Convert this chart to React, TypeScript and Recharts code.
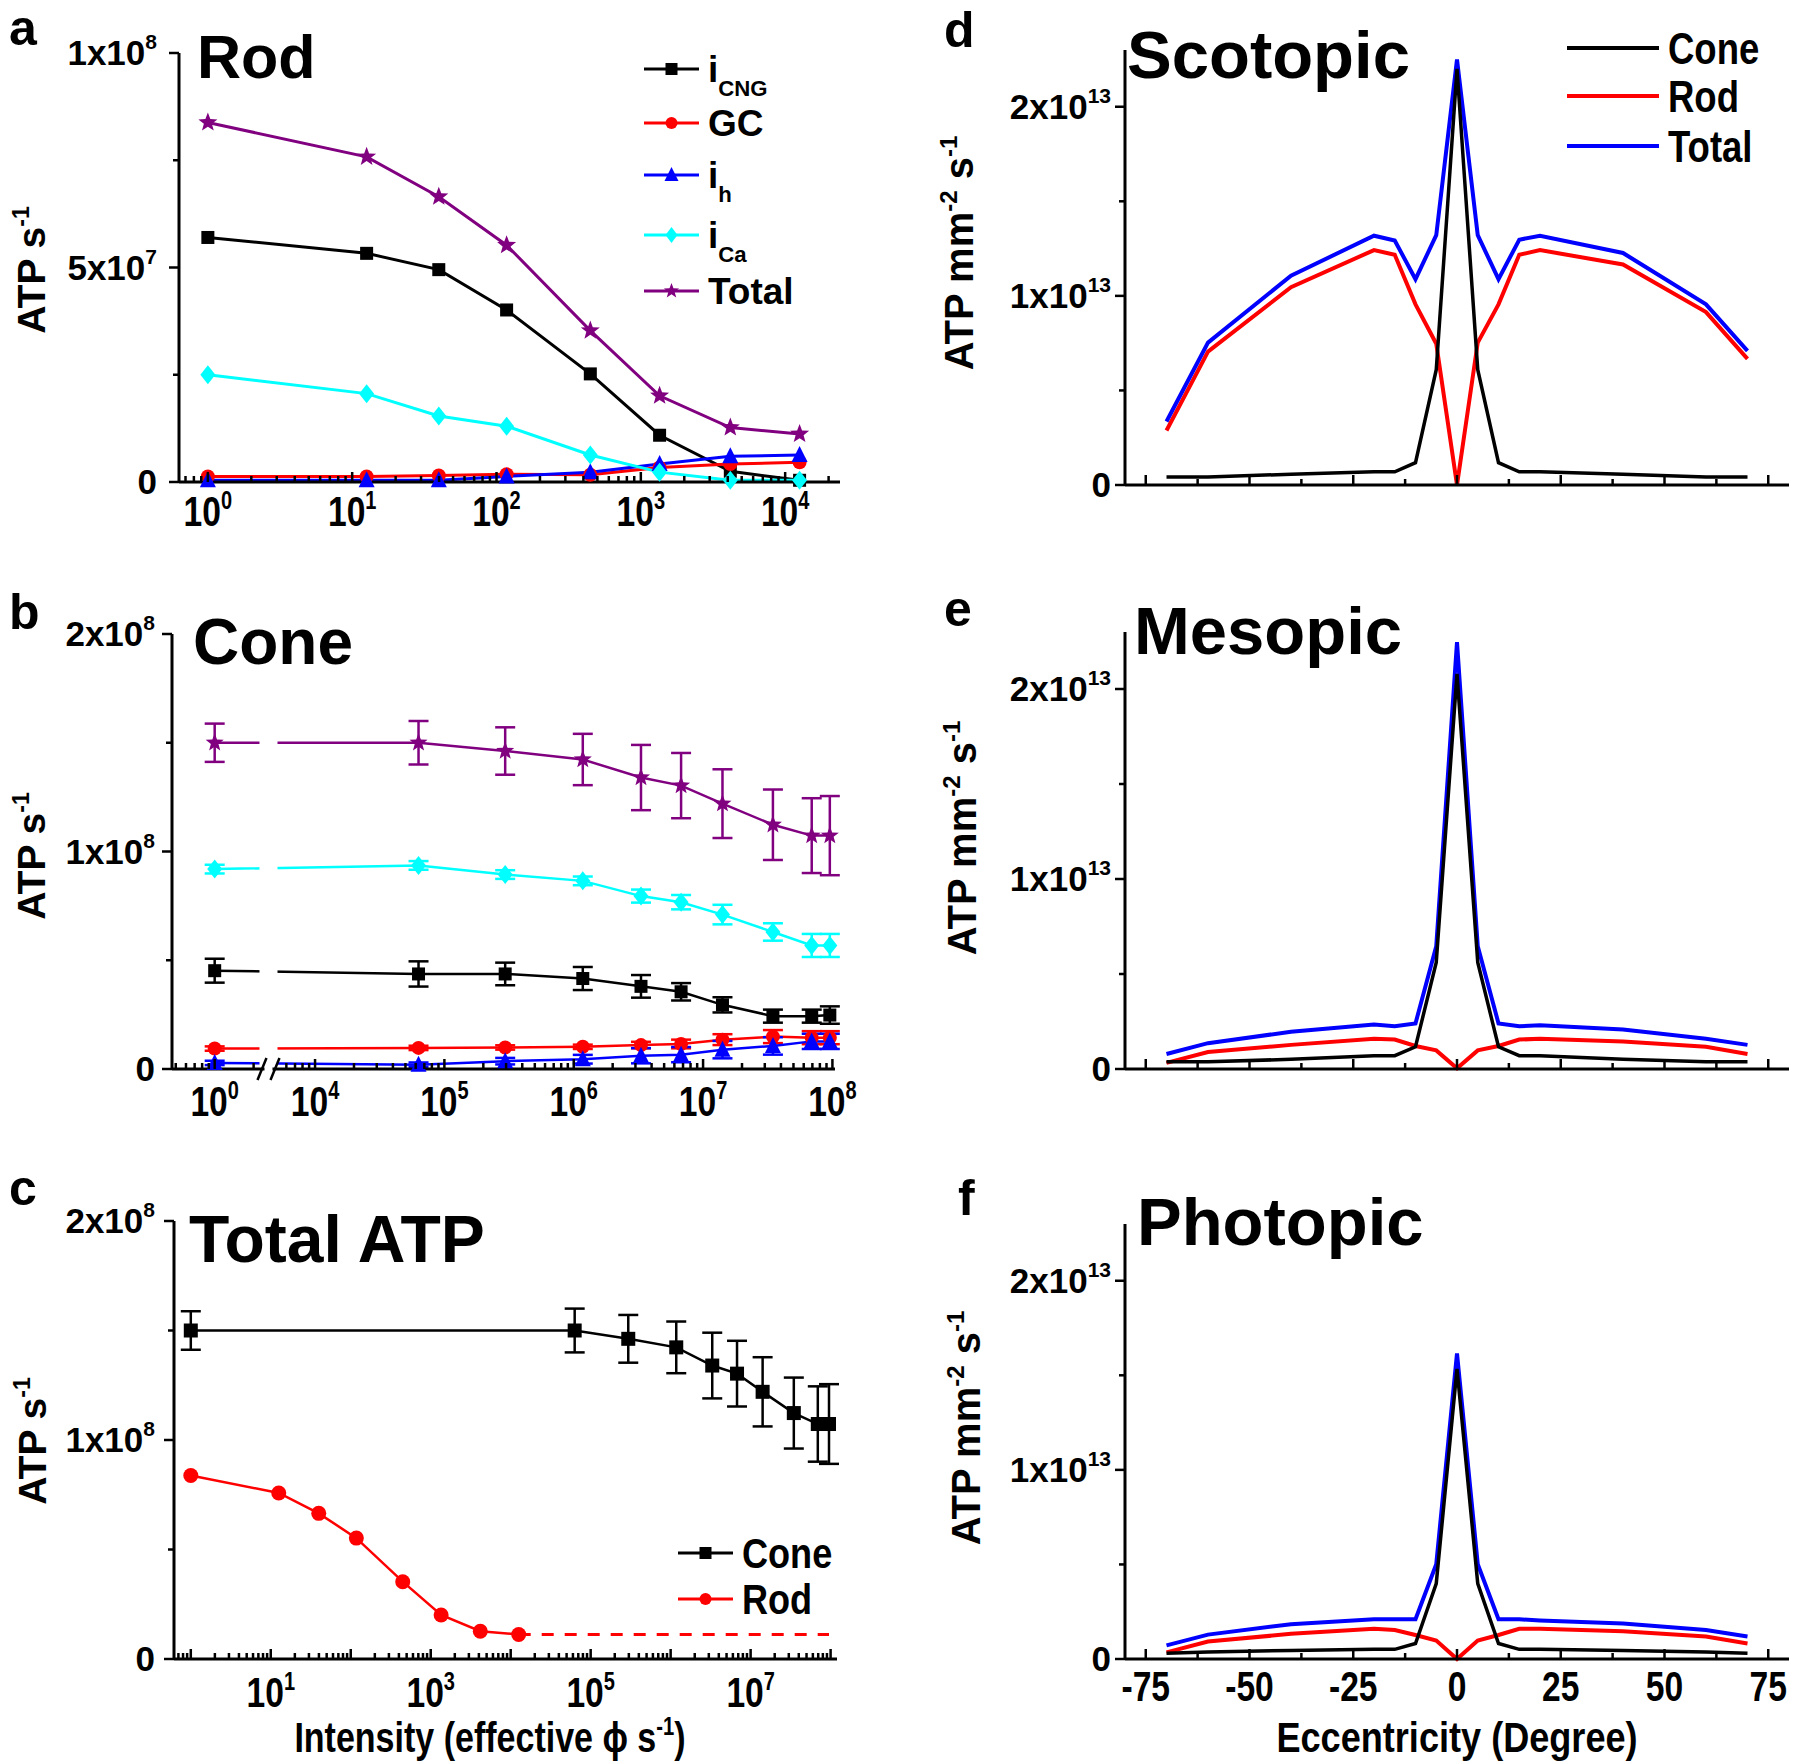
import type { ReactNode } from "react";
import { ErrorBar, Line, LineChart, XAxis, YAxis } from "recharts";

const SANS = "'Liberation Sans', Arial, Helvetica, sans-serif";

const PURPLE = "#800080";
const CYAN = "#00ffff";
const RED = "#ff0000";
const BLUE = "#0000ff";
const BLACK = "#000000";

// ---------- rod (panels a, c) : x = log10 intensity, values in 1e7 ATP/s ----------
const rodLogI = [0, 1.1, 1.6, 2.07, 2.65, 3.13, 3.62, 4.1];
const rodCng = [5.7, 5.33, 4.95, 4.01, 2.52, 1.09, 0.25, 0.04];
const rodGc = [0.13, 0.13, 0.15, 0.18, 0.17, 0.34, 0.42, 0.46];
const rodIh = [0.04, 0.04, 0.04, 0.13, 0.23, 0.42, 0.6, 0.63];
const rodICa = [2.5, 2.06, 1.54, 1.3, 0.63, 0.23, 0.04, 0.04];
const rodTotal = [8.38, 7.58, 6.65, 5.52, 3.53, 2.01, 1.27, 1.12];
// dashed continuation of rod total in panel c
const rodTailLogI = [4.1, 7.98];
const rodTailVal = [1.12, 1.12];

// ---------- cone (panels b, c) ----------
const coneLogI = [0, 4.8, 5.47, 6.07, 6.52, 6.83, 7.15, 7.54, 7.84, 7.98];
const coneTotal = [15.0, 15.0, 14.62, 14.23, 13.4, 13.03, 12.2, 11.23, 10.73, 10.73];
const coneTotalErr = [0.88, 1.0, 1.09, 1.18, 1.5, 1.5, 1.58, 1.62, 1.72, 1.82];
const coneICa = [9.19, 9.36, 8.94, 8.65, 7.95, 7.67, 7.1, 6.3, 5.68, 5.68];
const coneICaErr = [0.2, 0.2, 0.2, 0.2, 0.3, 0.33, 0.45, 0.4, 0.53, 0.53];
const coneCng = [4.52, 4.37, 4.37, 4.16, 3.8, 3.55, 2.95, 2.43, 2.43, 2.48];
const coneCngErr = [0.55, 0.58, 0.52, 0.53, 0.52, 0.4, 0.35, 0.3, 0.3, 0.4];
const coneGc = [0.94, 0.97, 0.99, 1.02, 1.1, 1.15, 1.35, 1.49, 1.44, 1.44];
const coneGcErr = [0.1, 0.1, 0.1, 0.1, 0.15, 0.2, 0.25, 0.3, 0.3, 0.3];
const coneIh = [0.28, 0.2, 0.36, 0.45, 0.61, 0.66, 0.89, 1.06, 1.27, 1.27];
const coneIhErr = [0.1, 0.1, 0.15, 0.2, 0.35, 0.35, 0.4, 0.4, 0.35, 0.35];

// ---------- eccentricity profiles (panels d-f), values in 1e12 ATP mm-2 s-1 ----------
const ecc = [-70, -60, -40, -20, -15, -10, -5, 0, 5, 10, 15, 20, 40, 60, 70];
const scotCone = [0.42, 0.42, 0.57, 0.7, 0.7, 1.18, 6.1, 22.0, 6.1, 1.18, 0.7, 0.7, 0.57, 0.42, 0.42];
const scotRod = [2.88, 7.05, 10.46, 12.42, 12.17, 9.55, 7.47, 0, 7.53, 9.55, 12.17, 12.42, 11.66, 9.14, 6.67];
const scotTotal = [3.36, 7.53, 11.07, 13.18, 12.93, 10.88, 13.21, 22.5, 13.21, 10.88, 12.97, 13.18, 12.27, 9.55, 7.09];
const mesoCone = [0.38, 0.38, 0.51, 0.7, 0.7, 1.17, 5.61, 20.8, 5.61, 1.17, 0.7, 0.7, 0.51, 0.38, 0.38];
const mesoRod = [0.32, 0.89, 1.27, 1.59, 1.55, 1.21, 0.98, 0.04, 0.98, 1.21, 1.55, 1.59, 1.45, 1.17, 0.79];
const mesoTotal = [0.79, 1.36, 1.96, 2.34, 2.25, 2.4, 6.46, 22.47, 6.46, 2.4, 2.25, 2.3, 2.08, 1.59, 1.27];
const photCone = [0.31, 0.37, 0.45, 0.51, 0.51, 0.82, 3.99, 15.34, 3.99, 0.82, 0.51, 0.51, 0.45, 0.37, 0.31];
const photRod = [0.35, 0.92, 1.33, 1.6, 1.53, 1.27, 0.98, 0, 0.98, 1.27, 1.6, 1.6, 1.47, 1.19, 0.82];
const photTotal = [0.72, 1.29, 1.84, 2.1, 2.1, 2.1, 5.01, 16.16, 5.01, 2.1, 2.1, 2.04, 1.88, 1.53, 1.19];

// tick labels
const rodDecades = [0, 1, 2, 3, 4];
const coneDecadesB = [0, 4, 5, 6, 7, 8];
const coneDecadesC = [1, 3, 5, 7];
const eccTicks = [-75, -62.5, -50, -37.5, -25, -12.5, 0, 12.5, 25, 37.5, 50, 62.5, 75];
const eccLabels = [-75, -50, -25, 0, 25, 50, 75];

const E7 = 1e7;
const E12 = 1e12;

// panel b has a broken axis: the 10^0 point sits left of the break
const BREAK_OFFSET = 3.224;
const BREAK_AT = 3.64;
const brokenX = (l: number) => (l < 2 ? l + BREAK_OFFSET : l);

const rodRows = rodLogI.map((x, i) => ({
  x,
  cng: rodCng[i] * E7,
  gc: rodGc[i] * E7,
  ih: rodIh[i] * E7,
  ica: rodICa[i] * E7,
  total: rodTotal[i] * E7,
}));
const rodTailRows = rodTailLogI.map((x, i) => ({ x, y: rodTailVal[i] * E7 }));

const coneRowsB = coneLogI.map((l, i) => ({
  x: brokenX(l),
  total: coneTotal[i] * E7,
  totalErr: coneTotalErr[i] * E7,
  ica: coneICa[i] * E7,
  icaErr: coneICaErr[i] * E7,
  cng: coneCng[i] * E7,
  cngErr: coneCngErr[i] * E7,
  gc: coneGc[i] * E7,
  gcErr: coneGcErr[i] * E7,
  ih: coneIh[i] * E7,
  ihErr: coneIhErr[i] * E7,
}));
const coneRowsC = coneLogI.map((x, i) => ({
  x,
  total: coneTotal[i] * E7,
  totalErr: coneTotalErr[i] * E7,
}));

const eccRows = (cone: number[], rod: number[], total: number[]) =>
  ecc.map((x, i) => ({ x, cone: cone[i] * E12, rod: rod[i] * E12, total: total[i] * E12 }));
const scotRows = eccRows(scotCone, scotRod, scotTotal);
const mesoRows = eccRows(mesoCone, mesoRod, mesoTotal);
const photRows = eccRows(photCone, photRod, photTotal);

// condensed bold text (no narrow face installed, so squeeze horizontally)
function NText({
  x,
  y,
  size,
  sx = 0.8,
  anchor = "start",
  children,
}: {
  x: number;
  y: number;
  size: number;
  sx?: number;
  anchor?: "start" | "middle" | "end";
  children: ReactNode;
}) {
  return (
    <text
      transform={`translate(${x},${y}) scale(${sx},1)`}
      textAnchor={anchor}
      fontFamily={SANS}
      fontWeight={700}
      fontSize={size}
      fill="#000"
    >
      {children}
    </text>
  );
}

// ---------- ticks ----------
function logTicks(lo: number, hi: number, offset = 0) {
  const ticks: number[] = [];
  const major: number[] = [];
  for (let n = Math.floor(lo - offset) - 1; n <= Math.ceil(hi - offset); n++) {
    for (let k = 1; k <= 9; k++) {
      const t = n + Math.log10(k) + offset;
      if (t >= lo - 1e-9 && t <= hi + 1e-9) {
        ticks.push(t);
        if (k === 1) major.push(t);
      }
    }
  }
  return { ticks, major };
}

type Lab = { at: number; base: string; sup?: string };
const near = (a: number, b: number) => Math.abs(a - b) <= Math.abs(a) * 1e-9 + 1e-6;

function xTick(opts: { labels: Lab[]; major: number[]; dy: number; breakAt?: number; plotH?: number }) {
  return (props: any) => {
    const { x, y, payload } = props;
    const v: number = payload.value;
    if (opts.breakAt !== undefined && near(opts.breakAt, v)) {
      const h = opts.plotH ?? 0;
      return (
        <g>
          <rect x={x - 9} y={y - h} width={18} height={h - 3} fill="#fff" />
          <rect x={x - 4} y={y - 3} width={8} height={6} fill="#fff" />
          <line x1={x - 11} y1={y + 11} x2={x - 2} y2={y - 11} stroke="#000" strokeWidth={2.5} />
          <line x1={x + 2} y1={y + 11} x2={x + 11} y2={y - 11} stroke="#000" strokeWidth={2.5} />
        </g>
      );
    }
    const isMajor = opts.major.some((m) => near(m, v));
    const lab = opts.labels.find((l) => near(l.at, v));
    return (
      <g>
        <line x1={x} x2={x} y1={y} y2={y - (isMajor ? 10 : 6)} stroke="#000" strokeWidth={2.5} />
        {lab && (
          <NText x={x} y={y + opts.dy} size={42} sx={0.8} anchor="middle">
            {lab.base}
            {lab.sup && (
              <tspan fontSize={25} dy={-17}>
                {lab.sup}
              </tspan>
            )}
          </NText>
        )}
      </g>
    );
  };
}

function yTick(labels: Lab[], gap: number) {
  return (props: any) => {
    const { x, y, payload } = props;
    const lab = labels.find((l) => near(l.at, payload.value));
    return (
      <g>
        <line x1={x} x2={x - (lab ? 10 : 6)} y1={y} y2={y} stroke="#000" strokeWidth={2.5} />
        {lab && (
          <text x={x - gap} y={y + 12} textAnchor="end" fontFamily={SANS} fontWeight={700} fontSize={35} fill="#000">
            {lab.base}
            {lab.sup && (
              <tspan fontSize={21} dy={-16}>
                {lab.sup}
              </tspan>
            )}
          </text>
        )}
      </g>
    );
  };
}

const decadeLabels = (ds: number[]): Lab[] => ds.map((d) => ({ at: d, base: "10", sup: String(d) }));

const aX = logTicks(-0.2, 4.38);
const bLeft = logTicks(2.894, 3.57, BREAK_OFFSET);
const bRight = logTicks(3.7, 8.02);
const bX = {
  ticks: [...bLeft.ticks, BREAK_AT, ...bRight.ticks],
  major: [...bLeft.major, ...bRight.major],
};
const cX = logTicks(-0.21, 8.08);

const aXTick = xTick({ labels: decadeLabels(rodDecades), major: aX.major, dy: 44 });
const bXTick = xTick({
  labels: coneDecadesB.map((d) => ({ at: d === 0 ? BREAK_OFFSET : d, base: "10", sup: String(d) })),
  major: bX.major,
  dy: 47,
  breakAt: BREAK_AT,
  plotH: 435,
});
const cXTick = xTick({ labels: decadeLabels(coneDecadesC), major: cX.major, dy: 48 });
const eccXTickBare = xTick({ labels: [], major: eccLabels, dy: 42 });
const eccXTick = xTick({ labels: eccLabels.map((v) => ({ at: v, base: String(v) })), major: eccLabels, dy: 42 });

const aYLabels: Lab[] = [
  { at: 0, base: "0" },
  { at: 5e7, base: "5x10", sup: "7" },
  { at: 1e8, base: "1x10", sup: "8" },
];
const bcYLabels: Lab[] = [
  { at: 0, base: "0" },
  { at: 1e8, base: "1x10", sup: "8" },
  { at: 2e8, base: "2x10", sup: "8" },
];
const eccYLabels: Lab[] = [
  { at: 0, base: "0" },
  { at: 1e13, base: "1x10", sup: "13" },
  { at: 2e13, base: "2x10", sup: "13" },
];
const aYTick = yTick(aYLabels, 22);
const bYTick = yTick(bcYLabels, 17);
const cYTick = yTick(bcYLabels, 19);
const eccYTick = yTick(eccYLabels, 14);

// ---------- markers ----------
type Shape = "square" | "circle" | "triangle" | "diamond" | "star";

function Marker({ cx, cy, shape, color, size }: { cx?: number; cy?: number; shape: Shape; color: string; size: number }) {
  if (cx == null || cy == null || Number.isNaN(cx) || Number.isNaN(cy)) return null;
  const h = size / 2;
  if (shape === "square") return <rect x={cx - h} y={cy - h} width={size} height={size} fill={color} />;
  if (shape === "circle") return <circle cx={cx} cy={cy} r={h} fill={color} />;
  if (shape === "triangle")
    return <polygon points={`${cx},${cy - h - 2} ${cx + h + 1},${cy + h} ${cx - h - 1},${cy + h}`} fill={color} />;
  if (shape === "diamond")
    return <polygon points={`${cx},${cy - h - 2} ${cx + h},${cy} ${cx},${cy + h + 2} ${cx - h},${cy}`} fill={color} />;
  const pts: string[] = [];
  for (let i = 0; i < 10; i++) {
    const r = i % 2 === 0 ? h + 2 : (h + 2) * 0.42;
    const a = -Math.PI / 2 + (i * Math.PI) / 5;
    pts.push(`${cx + r * Math.cos(a)},${cy + r * Math.sin(a)}`);
  }
  return <polygon points={pts.join(" ")} fill={color} />;
}

const dotOf = (shape: Shape, color: string, size: number) => (p: any) =>
  <Marker key={`${shape}-${color}-${p.index}`} cx={p.cx} cy={p.cy} shape={shape} color={color} size={size} />;

const AXIS = { stroke: "#000", strokeWidth: 3 };
const axisCommon = {
  type: "number" as const,
  interval: 0 as const,
  tickSize: 0,
  tickMargin: 0,
  tickLine: false,
  axisLine: AXIS,
};

// ---------- overlay texts ----------
function LegendRow({
  x,
  y,
  len,
  color,
  shape,
  label,
  sub,
  size,
  sx,
  width,
}: {
  x: number;
  y: number;
  len: number;
  color: string;
  shape?: Shape;
  label: string;
  sub?: string;
  size: number;
  sx: number;
  width: number;
}) {
  return (
    <g>
      <line x1={x} x2={x + len} y1={y} y2={y} stroke={color} strokeWidth={width} />
      {shape && <Marker cx={x + len / 2} cy={y} shape={shape} color={color} size={12} />}
      <NText x={x + len + 9} y={y + size * 0.36} size={size} sx={sx}>
        {label}
        {sub && (
          <tspan fontSize={size * 0.6} dy={size * 0.36}>
            {sub}
          </tspan>
        )}
      </NText>
    </g>
  );
}

function Overlay() {
  const letter = { fontFamily: SANS, fontWeight: 700, fontSize: 50, fill: "#000" };
  const title = { fontFamily: SANS, fontWeight: 700, fill: "#000" };
  const ytitle = { fontFamily: SANS, fontWeight: 700, fill: "#000", textAnchor: "middle" as const };
  const atp = (cx: number, cy: number) => (
    <text transform={`translate(${cx},${cy}) rotate(-90)`} y={14} fontSize={39} {...ytitle}>
      ATP s
      <tspan fontSize={23} dy={-16}>
        -1
      </tspan>
    </text>
  );
  const atpmm = (cx: number, cy: number) => (
    <text transform={`translate(${cx},${cy}) rotate(-90)`} y={14} fontSize={40} {...ytitle}>
      ATP mm
      <tspan fontSize={24} dy={-16}>
        -2
      </tspan>
      <tspan dy={16}> s</tspan>
      <tspan fontSize={24} dy={-16}>
        -1
      </tspan>
    </text>
  );
  return (
    <svg width={1800} height={1764} style={{ position: "absolute", left: 0, top: 0, pointerEvents: "none" }}>
      <text x={9} y={45} {...letter}>a</text>
      <text x={9} y={629} {...letter}>b</text>
      <text x={9} y={1205} {...letter}>c</text>
      <text x={944} y={47} {...letter}>d</text>
      <text x={944} y={626} {...letter}>e</text>
      <text x={958} y={1215} {...letter}>f</text>

      <text x={197} y={78} fontSize={61} {...title}>Rod</text>
      <text x={193} y={664} fontSize={64} {...title}>Cone</text>
      <text x={189} y={1262} fontSize={66} {...title}>Total ATP</text>
      <text x={1127} y={78} fontSize={67} {...title}>Scotopic</text>
      <text x={1134} y={654} fontSize={67} {...title}>Mesopic</text>
      <text x={1137} y={1245} fontSize={67} {...title}>Photopic</text>

      {atp(31, 270)}
      {atp(31, 856)}
      {atp(32, 1441)}
      {atpmm(959, 253)}
      {atpmm(962, 838)}
      {atpmm(966, 1428)}

      <NText x={490} y={1752} size={42} sx={0.81} anchor="middle">
        Intensity (effective ϕ s
        <tspan fontSize={25} dy={-17}>
          -1
        </tspan>
        <tspan dy={17}>)</tspan>
      </NText>
      <NText x={1457} y={1752} size={42} sx={0.86} anchor="middle">
        Eccentricity (Degree)
      </NText>

      {/* legend a */}
      <LegendRow x={644} y={69} len={55} color={BLACK} shape="square" label="i" sub="CNG" size={37} sx={1} width={3} />
      <LegendRow x={644} y={123} len={55} color={RED} shape="circle" label="GC" size={37} sx={1} width={3} />
      <LegendRow x={644} y={175} len={55} color={BLUE} shape="triangle" label="i" sub="h" size={37} sx={1} width={3} />
      <LegendRow x={644} y={235} len={55} color={CYAN} shape="diamond" label="i" sub="Ca" size={37} sx={1} width={3} />
      <LegendRow x={644} y={291} len={55} color={PURPLE} shape="star" label="Total" size={37} sx={1} width={3} />

      {/* legend c */}
      <LegendRow x={678} y={1553} len={55} color={BLACK} shape="square" label="Cone" size={43} sx={0.84} width={3} />
      <LegendRow x={678} y={1599} len={55} color={RED} shape="circle" label="Rod" size={43} sx={0.84} width={3} />

      {/* legend d */}
      <LegendRow x={1567} y={48} len={92} color={BLACK} label="Cone" size={44} sx={0.83} width={4} />
      <LegendRow x={1567} y={96} len={92} color={RED} label="Rod" size={44} sx={0.83} width={4} />
      <LegendRow x={1567} y={146} len={92} color={BLUE} label="Total" size={44} sx={0.83} width={4} />
    </svg>
  );
}

// ---------- panels ----------
function PanelA() {
  return (
    <LineChart width={860} height={560} margin={{ top: 53, right: 20, bottom: 0, left: 0 }} data={rodRows}>
      <Line dataKey="cng" stroke={BLACK} strokeWidth={3} dot={dotOf("square", BLACK, 13)} isAnimationActive={false} />
      <Line dataKey="gc" stroke={RED} strokeWidth={3} dot={dotOf("circle", RED, 14)} isAnimationActive={false} />
      <Line dataKey="ih" stroke={BLUE} strokeWidth={3} dot={dotOf("triangle", BLUE, 14)} isAnimationActive={false} />
      <Line dataKey="ica" stroke={CYAN} strokeWidth={3} dot={dotOf("diamond", CYAN, 15)} isAnimationActive={false} />
      <Line dataKey="total" stroke={PURPLE} strokeWidth={3} dot={dotOf("star", PURPLE, 16)} isAnimationActive={false} />
      <XAxis {...axisCommon} dataKey="x" domain={[-0.2, 4.38]} ticks={aX.ticks} tick={aXTick} height={78} />
      <YAxis {...axisCommon} domain={[0, 1e8]} ticks={[0, 2.5e7, 5e7, 7.5e7, 1e8]} tick={aYTick} width={179} />
    </LineChart>
  );
}

function PanelB() {
  const eb = (key: string, color: string) => (
    <ErrorBar dataKey={key} direction="y" width={10} stroke={color} strokeWidth={2.5} />
  );
  return (
    <LineChart width={860} height={570} margin={{ top: 54, right: 25, bottom: 0, left: 0 }} data={coneRowsB}>
      <Line dataKey="cng" stroke={BLACK} strokeWidth={2.5} dot={dotOf("square", BLACK, 13)} isAnimationActive={false}>
        {eb("cngErr", BLACK)}
      </Line>
      <Line dataKey="gc" stroke={RED} strokeWidth={2.5} dot={dotOf("circle", RED, 14)} isAnimationActive={false}>
        {eb("gcErr", RED)}
      </Line>
      <Line dataKey="ih" stroke={BLUE} strokeWidth={2.5} dot={dotOf("triangle", BLUE, 14)} isAnimationActive={false}>
        {eb("ihErr", BLUE)}
      </Line>
      <Line dataKey="ica" stroke={CYAN} strokeWidth={2.5} dot={dotOf("diamond", CYAN, 15)} isAnimationActive={false}>
        {eb("icaErr", CYAN)}
      </Line>
      <Line dataKey="total" stroke={PURPLE} strokeWidth={2.5} dot={dotOf("star", PURPLE, 15)} isAnimationActive={false}>
        {eb("totalErr", PURPLE)}
      </Line>
      <XAxis {...axisCommon} dataKey="x" domain={[2.894, 8.02]} ticks={bX.ticks} tick={bXTick} height={81} />
      <YAxis {...axisCommon} domain={[0, 2e8]} ticks={[0, 5e7, 1e8, 1.5e8, 2e8]} tick={bYTick} width={172} />
    </LineChart>
  );
}

function PanelC() {
  return (
    <LineChart width={860} height={604} margin={{ top: 61, right: 23, bottom: 0, left: 0 }}>
      <Line
        data={rodTailRows}
        dataKey="y"
        stroke={RED}
        strokeWidth={3}
        strokeDasharray="12 11"
        dot={false}
        isAnimationActive={false}
      />
      <Line data={rodRows} dataKey="total" stroke={RED} strokeWidth={2.5} dot={dotOf("circle", RED, 15)} isAnimationActive={false} />
      <Line data={coneRowsC} dataKey="total" stroke={BLACK} strokeWidth={2.5} dot={dotOf("square", BLACK, 14)} isAnimationActive={false}>
        <ErrorBar dataKey="totalErr" direction="y" width={10} stroke={BLACK} strokeWidth={2.5} />
      </Line>
      <XAxis {...axisCommon} dataKey="x" domain={[-0.21, 8.08]} ticks={cX.ticks} tick={cXTick} height={105} />
      <YAxis {...axisCommon} domain={[0, 2e8]} ticks={[0, 5e7, 1e8, 1.5e8, 2e8]} tick={cYTick} width={174} />
    </LineChart>
  );
}

function EccPanel({
  rows,
  height,
  top,
  xh,
  labelled,
}: {
  rows: { x: number; cone: number; rod: number; total: number }[];
  height: number;
  top: number;
  xh: number;
  labelled: boolean;
}) {
  return (
    <LineChart width={900} height={height} margin={{ top, right: 11, bottom: 0, left: 0 }} data={rows}>
      <Line dataKey="rod" stroke={RED} strokeWidth={4} dot={false} isAnimationActive={false} />
      <Line dataKey="total" stroke={BLUE} strokeWidth={4} dot={false} isAnimationActive={false} />
      <Line dataKey="cone" stroke={BLACK} strokeWidth={3.5} dot={false} isAnimationActive={false} />
      <XAxis
        {...axisCommon}
        dataKey="x"
        domain={[-80, 80]}
        ticks={eccTicks}
        tick={labelled ? eccXTick : eccXTickBare}
        height={xh}
      />
      <YAxis {...axisCommon} domain={[0, 2.3e13]} ticks={[0, 0.5e13, 1e13, 1.5e13, 2e13]} tick={eccYTick} width={225} />
    </LineChart>
  );
}

export default function App() {
  const abs = (left: number, top: number) => ({ position: "absolute" as const, left, top });
  return (
    <div style={{ position: "absolute", left: 0, top: 0, width: 1800, height: 1764, background: "#fff", overflow: "hidden" }}>
      <div style={abs(0, 0)}>
        <PanelA />
      </div>
      <div style={abs(0, 580)}>
        <PanelB />
      </div>
      <div style={abs(0, 1160)}>
        <PanelC />
      </div>
      <div style={abs(900, 0)}>
        <EccPanel rows={scotRows} height={560} top={50} xh={75} labelled={false} />
      </div>
      <div style={abs(900, 580)}>
        <EccPanel rows={mesoRows} height={570} top={52} xh={81} labelled={false} />
      </div>
      <div style={abs(900, 1160)}>
        <EccPanel rows={photRows} height={604} top={64} xh={105} labelled={true} />
      </div>
      <Overlay />
    </div>
  );
}
